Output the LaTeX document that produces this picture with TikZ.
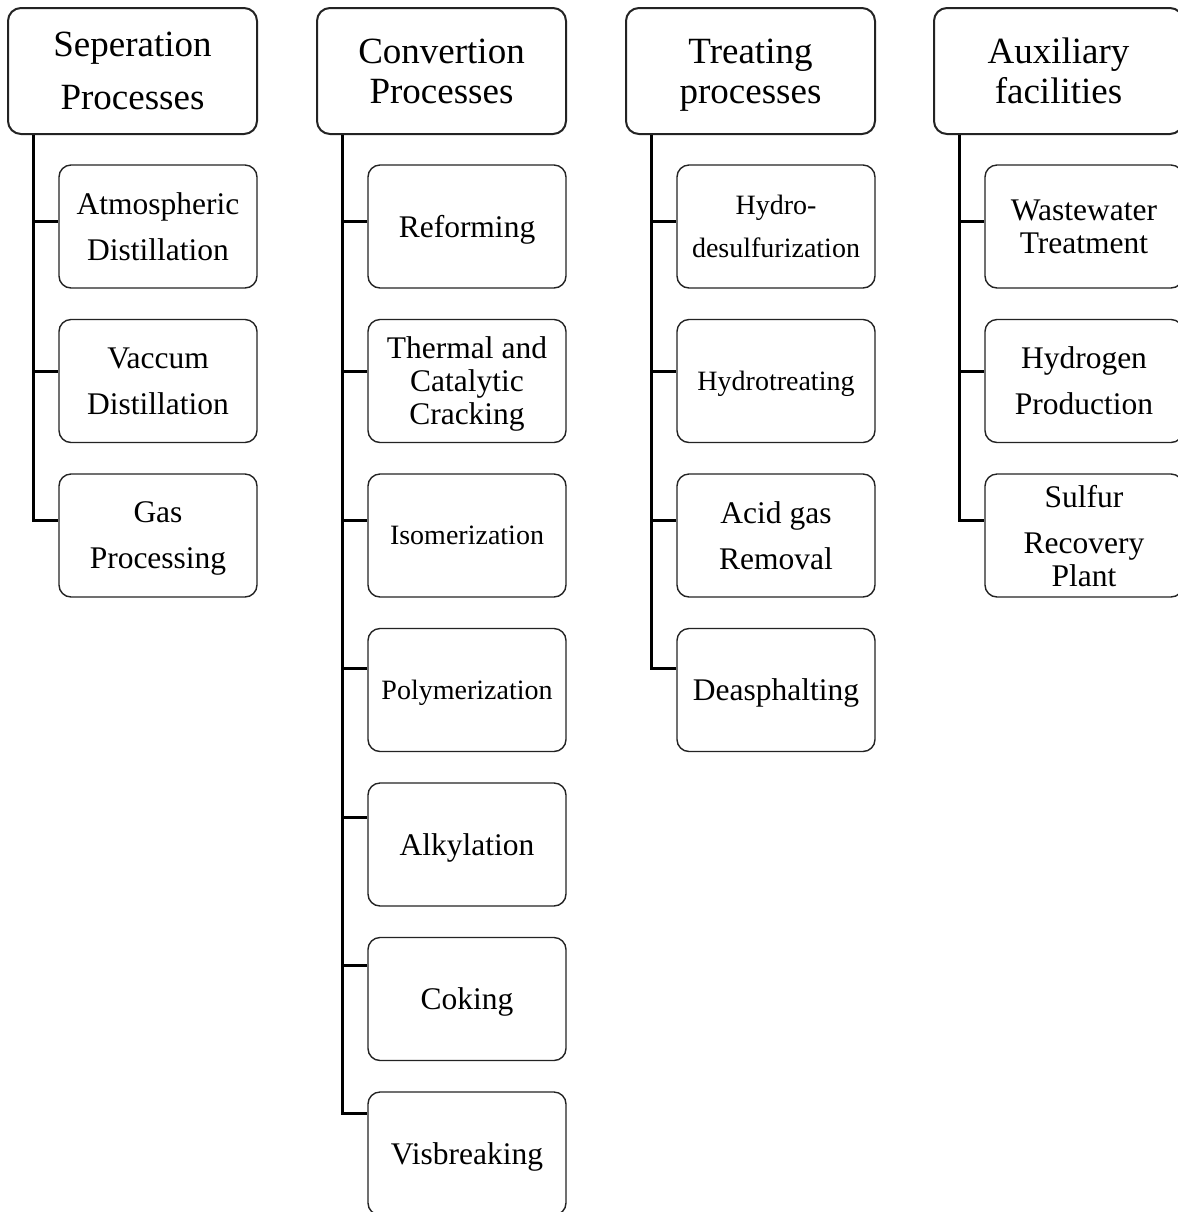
\documentclass[tikz,border=0pt]{standalone}
\usepackage{fontspec}
\setmainfont{Liberation Serif}
\usetikzlibrary{positioning, calc}
\definecolor{boxline}{RGB}{35, 35, 35}

\begin{document}
\begin{tikzpicture}[
    x=0.5pt, y=-0.5pt,
    hdrbox/.style={rectangle, draw=boxline, line width=1pt, rounded corners=6.5pt, minimum width=124.5pt, minimum height=63pt, align=center, inner sep=2pt, text depth=0pt, font=\fontsize{18.5}{20}\selectfont},
    leafbox/.style={rectangle, draw=boxline, line width=0.7pt, rounded corners=6pt, minimum width=99pt, minimum height=61.5pt, align=center, inner sep=2pt, text depth=0pt, font=\fontsize{15.75}{23}\selectfont},
    tightleaf/.style={font=\fontsize{15.75}{16.5}\selectfont},
    smallleaf/.style={font=\fontsize{14}{21.5}\selectfont},
    branch/.style={draw=black, line width=1.5pt}
]
    \useasboundingbox (0,0) rectangle (1178,1212);

    % column headers
    \node[hdrbox, font=\fontsize{18.5}{26.5}\selectfont] (sep) at (132.5, 71) {Seperation\\Processes};
    \node[hdrbox] (conv) at (441.5, 71) {Convertion\\Processes};
    \node[hdrbox] (treat) at (750.5, 71) {Treating\\processes};
    \node[hdrbox] (aux) at (1058.5, 71) {Auxiliary\\facilities};

    % separation
    \node[leafbox] (atm) at (158, 226.5) {Atmospheric\\Distillation};
    \node[leafbox] (vac) at (158, 381) {Vaccum\\Distillation};
    \node[leafbox] (gas) at (158, 535.5) {Gas\\Processing};

    % conversion
    \node[leafbox] (ref) at (467, 226.5) {Reforming};
    \node[leafbox, tightleaf] (crack) at (467, 381) {Thermal and\\Catalytic\\Cracking};
    \node[leafbox, smallleaf] (iso) at (467, 535.5) {Isomerization};
    \node[leafbox, smallleaf] (poly) at (467, 690) {Polymerization};
    \node[leafbox] (alky) at (467, 844.5) {Alkylation};
    \node[leafbox] (cok) at (467, 999) {Coking};
    \node[leafbox] (vis) at (467, 1153.5) {Visbreaking};

    % treating
    \node[leafbox, smallleaf] (hds) at (776, 226.5) {Hydro-\\desulfurization};
    \node[leafbox, smallleaf] (hyt) at (776, 381) {Hydrotreating};
    \node[leafbox] (acid) at (776, 535.5) {Acid gas\\Removal};
    \node[leafbox] (deas) at (776, 690) {Deasphalting};

    % auxiliary
    \node[leafbox, tightleaf] (wwt) at (1084, 226.5) {Wastewater\\Treatment};
    \node[leafbox] (hyd) at (1084, 381) {Hydrogen\\Production};
    \node[leafbox, tightleaf] (sulf) at (1084, 535.5) {Sulfur\\[6.5pt]Recovery\\Plant};

    % connectors
    \foreach \hd/\kid/\f in {sep/atm/0.46, sep/vac/0.42, sep/gas/0.38,
        conv/ref/0.46, conv/crack/0.42, conv/iso/0.38, conv/poly/0.33, conv/alky/0.28, conv/cok/0.23, conv/vis/0.18,
        treat/hds/0.46, treat/hyt/0.42, treat/acid/0.38, treat/deas/0.33,
        aux/wwt/0.46, aux/hyd/0.42, aux/sulf/0.38}
        \draw[branch] ($(\hd.south west)+(26,0)$) |- ($(\kid.north west)!\f!(\kid.south west)$);
\end{tikzpicture}
\end{document}
